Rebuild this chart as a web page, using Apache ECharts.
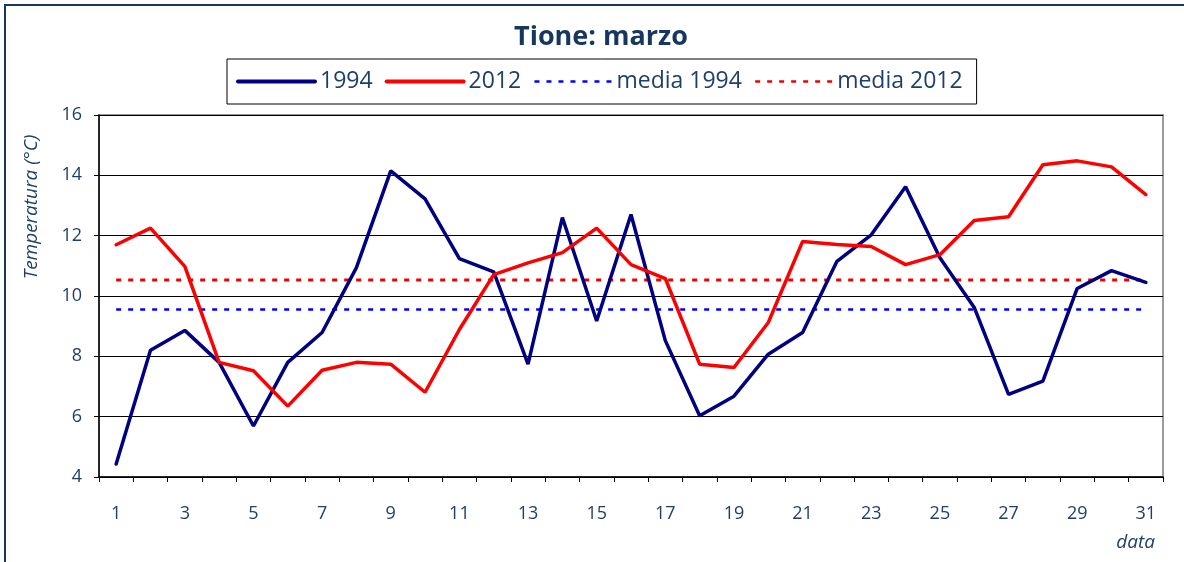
<!DOCTYPE html>
<html>
<head>
<meta charset="utf-8">
<title>Tione: marzo</title>
<script src="https://cdn.jsdelivr.net/npm/echarts@6/dist/echarts.min.js"></script>
<style>
  html, body { margin: 0; padding: 0; background: #fff; }
  #chart { width: 1184px; height: 562px; }
</style>
</head>
<body>
<div id="chart"></div>
<script>
// giorni di marzo
const days = [];
for (let d = 1; d <= 31; d++) days.push(String(d));

// temperature (°C)
const temp1994 = [4.43, 8.2, 8.86, 7.8, 5.69, 7.8, 8.79, 10.94, 14.15, 13.22,
  11.24, 10.8, 7.74, 12.6, 9.17, 12.7, 8.52, 6.03, 6.68, 8.07,
  8.79, 11.15, 12.03, 13.62, 11.27, 9.62, 6.74, 7.18, 10.25, 10.84, 10.45];
const temp2012 = [11.7, 12.25, 10.98, 7.8, 7.52, 6.35, 7.54, 7.8, 7.74, 6.81,
  8.89, 10.71, 11.1, 11.44, 12.25, 11.04, 10.58, 7.74, 7.63, 9.12,
  11.81, 11.71, 11.64, 11.04, 11.37, 12.5, 12.63, 14.35, 14.48, 14.28, 13.36];

// medie mensili
const media1994 = 9.55;
const media2012 = 10.53;

const yTicks = { min: 4, max: 16, interval: 2 };

const textColor = "#1F3F6B";
const fontFam = "'Open Sans', 'Noto Sans', sans-serif";

const myChart = echarts.init(document.getElementById("chart"), null, { renderer: "canvas" });

const options = {
  backgroundColor: "#ffffff",
  animation: false,
  title: {
    text: "Tione: marzo",
    left: 596,
    textAlign: "center",
    top: 19,
    textStyle: {
      color: "#17375E",
      fontSize: 27,
      fontWeight: "bold",
      fontFamily: fontFam,
    },
  },
  legend: {
    left: 227,
    top: 59,
    orient: "horizontal",
    data: [
      { name: "1994", lineStyle: { width: 4, cap: "round" } },
      { name: "2012", lineStyle: { width: 4, cap: "round" } },
      { name: "media 1994", lineStyle: { width: 2.5 } },
      { name: "media 2012", lineStyle: { width: 2.5 } },
    ],
    itemWidth: 77,
    itemHeight: 14,
    itemGap: 12,
    itemStyle: { opacity: 0 },
    borderColor: "#000",
    borderWidth: 1,
    padding: [11, 14, 11, 9],
    textStyle: {
      color: textColor,
      fontSize: 23,
      fontFamily: fontFam,
    },
  },
  grid: {
    left: 99,
    right: 21,
    top: 115,
    bottom: 85,
    show: true,
    borderColor: "#9a9a9a",
    borderWidth: 2,
    backgroundColor: "#ffffff",
  },
  xAxis: {
    type: "category",
    data: days,
    boundaryGap: true,
    axisLine: { show: true, lineStyle: { color: "#000", width: 1.5 } },
    axisTick: { show: true, interval: 0, length: 5, lineStyle: { color: "#000" } },
    axisLabel: {
      interval: 1,
      margin: 28,
      color: textColor,
      fontSize: 18,
      fontFamily: fontFam,
    },
    splitLine: { show: false },
  },
  yAxis: {
    type: "value",
    min: yTicks.min,
    max: yTicks.max,
    interval: yTicks.interval,
    axisLine: { show: true, lineStyle: { color: "#000", width: 1.5 } },
    axisTick: { show: true, length: 5, lineStyle: { color: "#000" } },
    axisLabel: {
      margin: 17,
      color: textColor,
      fontSize: 18,
      fontFamily: fontFam,
    },
    splitLine: { show: true, lineStyle: { color: "#000", width: 1 } },
  },
  graphic: [
    {
      type: "rect",
      silent: true,
      z: -10,
      shape: { x: 5, y: 5, width: 1300, height: 700 },
      style: { fill: "none", stroke: "#17375E", lineWidth: 2 },
    },
    {
      type: "text",
      x: 32,
      y: 207,
      rotation: Math.PI / 2,
      style: {
        text: "Temperatura (°C)",
        fill: textColor,
        font: "italic 19px " + fontFam,
        textAlign: "center",
        textVerticalAlign: "middle",
      },
    },
    {
      type: "text",
      x: 1155,
      y: 543,
      style: {
        text: "data",
        fill: textColor,
        font: "italic 19px " + fontFam,
        textAlign: "right",
        textVerticalAlign: "middle",
      },
    },
  ],
  series: [
    {
      name: "1994",
      type: "line",
      data: temp1994,
      symbol: "none",
      z: 3,
      lineStyle: { color: "#000080", width: 3.5, cap: "round" },
      itemStyle: { color: "#000080" },
    },
    {
      name: "2012",
      type: "line",
      data: temp2012,
      symbol: "none",
      z: 4,
      lineStyle: { color: "#FF0000", width: 3.5, cap: "round" },
      itemStyle: { color: "#FF0000" },
    },
    {
      name: "media 1994",
      type: "line",
      data: days.map(() => media1994),
      symbol: "none",
      z: 2,
      lineStyle: { color: "#0000FF", width: 2.5, type: [5, 7] },
      itemStyle: { color: "#0000FF" },
    },
    {
      name: "media 2012",
      type: "line",
      data: days.map(() => media2012),
      symbol: "none",
      z: 2,
      lineStyle: { color: "#EE0000", width: 3, type: [5, 7] },
      itemStyle: { color: "#EE0000" },
    },
  ],
};

myChart.setOption(options);
</script>
</body>
</html>
